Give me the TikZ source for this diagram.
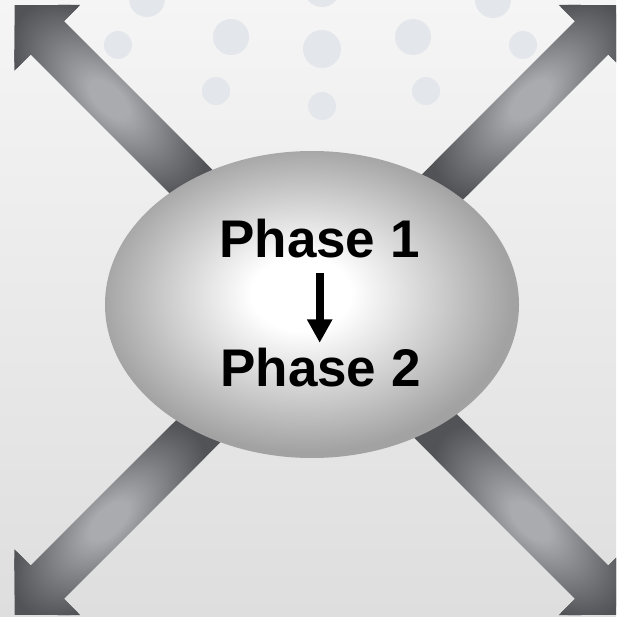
\documentclass[tikz,border=0pt]{standalone}
\usepackage{fontspec}
\setmainfont{Liberation Sans}
\usetikzlibrary{arrows.meta,shapes.geometric}
\definecolor{bgtop}{RGB}{245,245,245}
\definecolor{bgbot}{RGB}{222,222,222}
\definecolor{dotc}{RGB}{227,230,235}
\definecolor{arrlight}{RGB}{170,171,175}
\definecolor{arrdark}{RGB}{82,83,87}
\definecolor{ellout}{RGB}{162,162,162}
\definecolor{ellmid}{RGB}{202,202,202}
\pgfdeclareradialshading{ellsh}{\pgfpoint{-1.5bp}{2bp}}{%
  color(0bp)=(white); color(6bp)=(white); color(17bp)=(ellmid); color(25bp)=(ellout); color(50bp)=(ellout)}
\pgfdeclareradialshading{arrsh}{\pgfpoint{0bp}{0bp}}{%
  color(0bp)=(arrlight); color(5bp)=(arrlight); color(25bp)=(arrdark); color(50bp)=(arrdark)}
\newcommand\mybigarrow[1]{%
  \begin{scope}[transform canvas={shift={(319.5,310)},rotate=#1}]
    \clip (0,-23.5) -- (385,-23.5) -- (385,-46.5) -- (431,0) -- (385,46.5)
          -- (385,23.5) -- (0,23.5) -- cycle;
    \fill[arrdark] (0,-50) rectangle (440,50);
    \shade[shading=arrsh] (298,0) ellipse (122 and 62);
  \end{scope}}
\begin{document}
\begin{tikzpicture}[x=1pt,y=-1pt,
  dot/.style={fill=dotc},
  phase/.style={font=\bfseries\fontsize{53}{60}\selectfont, inner sep=0pt, anchor=base},
  flow/.style={line width=8pt, -{Triangle[width=24pt,length=23.5pt]}}]
  \path[use as bounding box, clip] (0,0) rectangle (616,617);
  \shade[top color=bgtop, bottom color=bgbot] (0,0) rectangle (616,617);
  % dots
  \foreach \x/\y/\r in {147/-1/18, 118/45/14, 231/37/18, 216/91/14, 322/-11/18,
                         322/49/19, 322/106/14, 413/37/18, 426/91/14, 493/0/18, 523/45/14}
    \fill[dot] (\x,\y) circle (\r);
  % big arrows
  \mybigarrow{135}
  \mybigarrow{45}
  \mybigarrow{225}
  \mybigarrow{315}
  % central ellipse
  \node (core) [ellipse, minimum width=414pt, minimum height=307pt, inner sep=0pt,
        shade, shading=ellsh] at (312,304.5) {};
  \node (p1) [phase] at (319.5,257) {Phase 1};
  \node (p2) [phase] at (320.5,386) {Phase 2};
  \coordinate (a1) at (319.7,273.3);
  \coordinate (a2) at (319.7,342.8);
  \draw[flow] (a1) -- (a2);
\end{tikzpicture}
\end{document}
